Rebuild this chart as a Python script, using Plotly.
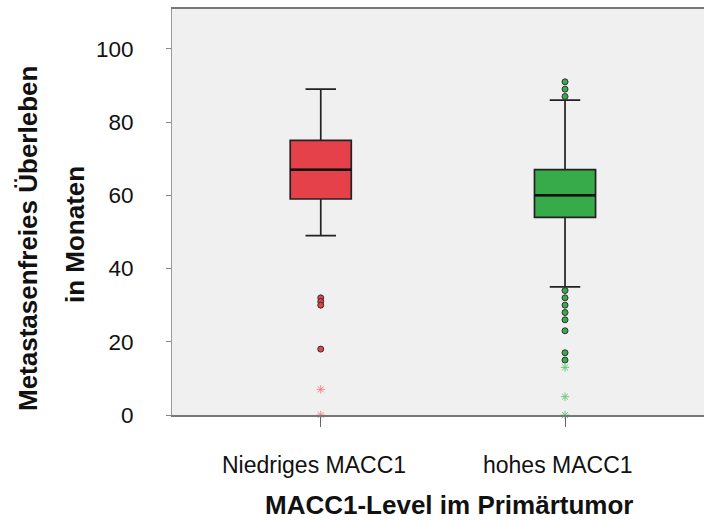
import plotly.graph_objects as go

# ---- data ----
categories = ["Niedriges MACC1", "hohes MACC1"]
q1 = [59, 54]
median = [67, 60]
q3 = [75, 67]
lower_whisker = [49, 35]
upper_whisker = [89, 86]
outliers = [[32, 31, 30, 18], [91, 89, 87, 34, 32, 30, 28, 26, 23, 17, 15]]
extremes = [[7, 0], [13, 5, 0]]
y_ticks = [0, 20, 40, 60, 80, 100]

fill_colors = ["#E4414A", "#37AA4A"]
star_colors = ["#F08A90", "#6CC97D"]
BOX_W = 0.25

fig = go.Figure()
for i, cat in enumerate(categories):
    fig.add_trace(go.Box(
        x=[i], q1=[q1[i]], median=[median[i]], q3=[q3[i]],
        lowerfence=[lower_whisker[i]], upperfence=[upper_whisker[i]],
        width=BOX_W, whiskerwidth=0.5, boxpoints=False,
        fillcolor=fill_colors[i], line=dict(color="#222222", width=1.7),
        showlegend=False, hoverinfo="skip"))
    # thicker median line
    fig.add_trace(go.Scatter(
        x=[i - BOX_W / 2, i + BOX_W / 2], y=[median[i], median[i]],
        mode="lines", line=dict(color="#111111", width=2.5),
        showlegend=False, hoverinfo="skip"))
    fig.add_trace(go.Scatter(
        x=[i] * len(outliers[i]), y=outliers[i], mode="markers",
        marker=dict(symbol="circle", size=6, color=fill_colors[i],
                    line=dict(color="#333333", width=1)),
        showlegend=False, cliponaxis=False, hoverinfo="skip"))
    fig.add_trace(go.Scatter(
        x=[i] * len(extremes[i]), y=extremes[i], mode="markers",
        marker=dict(symbol="asterisk-open", size=7, color=star_colors[i],
                    line=dict(color=star_colors[i], width=1)),
        showlegend=False, cliponaxis=False, hoverinfo="skip"))

font_fam = "Arial, Liberation Sans, sans-serif"

cat_annotations = [
    dict(text=cat, xref="x", yref="paper", x=i, y=(415 - 465) / 406,
         xanchor="center", yanchor="middle", xshift=-7, showarrow=False,
         font=dict(size=23, family=font_fam, color="#111111"))
    for i, cat in enumerate(categories)
]

fig.update_layout(
    width=704, height=520,
    margin=dict(l=172, r=0, t=9, b=105),
    paper_bgcolor="white", plot_bgcolor="#F0F0F0",
    font=dict(family=font_fam, color="#111111"),
    xaxis=dict(
        range=[-0.609, 1.569], tickvals=[0, 1], showticklabels=False,
        showgrid=False, zeroline=False,
        showline=True, linecolor="#777777", linewidth=2, mirror=True,
        ticks="outside", ticklen=10, tickcolor="#666666", tickwidth=1,
    ),
    yaxis=dict(
        range=[0, 110.9], tickvals=y_ticks,
        showgrid=False, zeroline=False,
        showline=True, linecolor="#999999", linewidth=1,
        ticks="outside", ticklen=5, tickcolor="#888888", tickwidth=1,
        tickfont=dict(size=22.5, family=font_fam, color="#111111"),
        ticklabelstandoff=28,
    ),
    annotations=cat_annotations + [
        dict(text="<b>Metastasenfreies Überleben</b>", textangle=-90,
             xref="paper", yref="paper", x=(28 - 172) / 532, y=(415 - 239) / 406,
             xanchor="center", yanchor="middle", showarrow=False,
             font=dict(size=26, family=font_fam, color="#111111")),
        dict(text="<b>in Monaten</b>", textangle=-90,
             xref="paper", yref="paper", x=(75 - 172) / 532, y=(415 - 235) / 406,
             xanchor="center", yanchor="middle", showarrow=False,
             font=dict(size=26, family=font_fam, color="#111111")),
        dict(text="<b>MACC1-Level im Primärtumor</b>",
             xref="paper", yref="paper", x=(448.5 - 172) / 532, y=(415 - 505) / 406,
             xanchor="center", yanchor="middle", showarrow=False,
             font=dict(size=26, family=font_fam, color="#111111")),
    ],
)

fig.write_html("out.html", config={"displayModeBar": False},
               post_script="document.body.style.margin='0';document.body.style.overflow='hidden';")
